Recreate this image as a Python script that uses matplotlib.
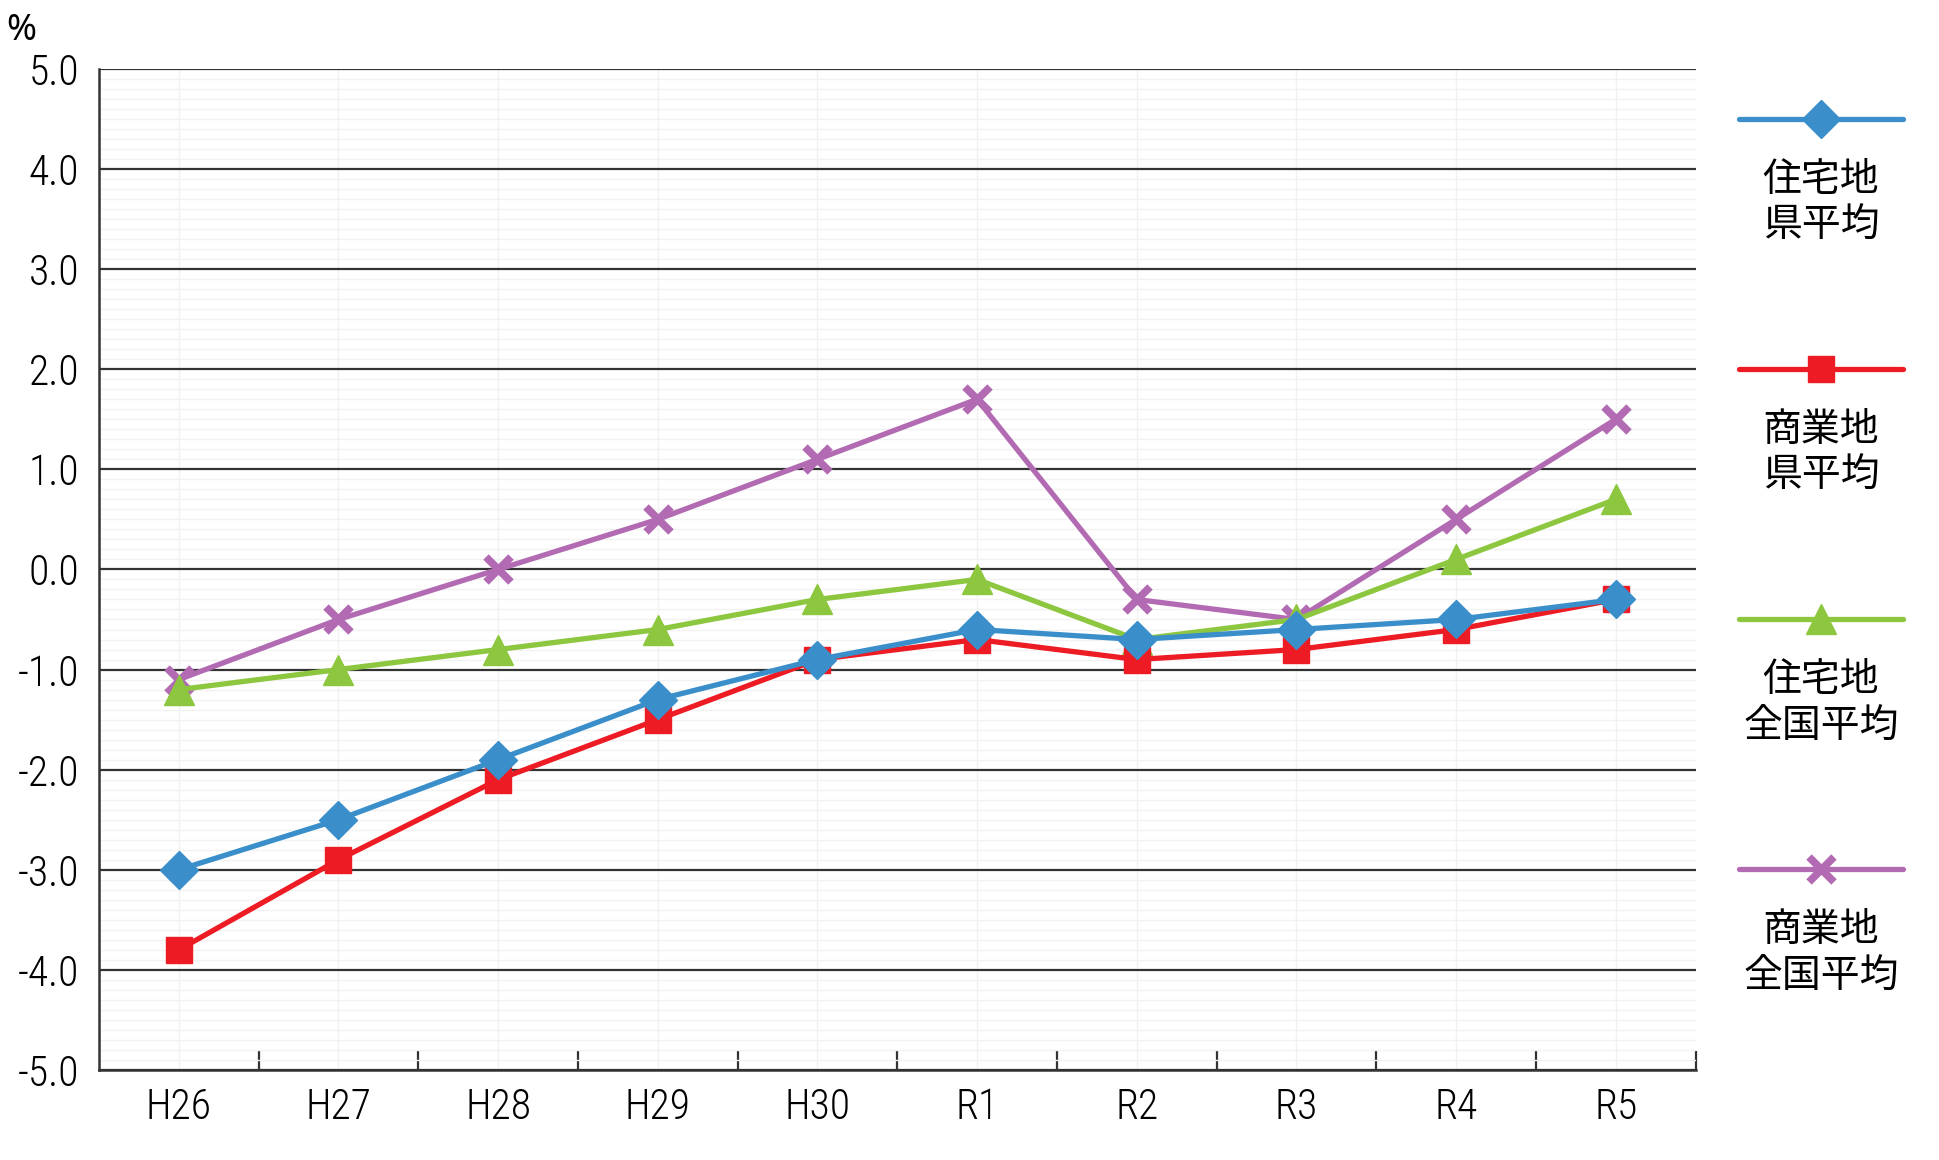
import matplotlib
matplotlib.use("Agg")
import matplotlib.pyplot as plt
from matplotlib import font_manager
from matplotlib.ticker import MultipleLocator, FixedLocator
import numpy as np

# データ
years = ['H26', 'H27', 'H28', 'H29', 'H30', 'R1', 'R2', 'R3', 'R4', 'R5']
res_pref = [-3.0, -2.5, -1.9, -1.3, -0.9, -0.6, -0.7, -0.6, -0.5, -0.3]
com_pref = [-3.8, -2.9, -2.1, -1.5, -0.9, -0.7, -0.9, -0.8, -0.6, -0.3]
res_nat = [-1.2, -1.0, -0.8, -0.6, -0.3, -0.1, -0.7, -0.5, 0.1, 0.7]
com_nat = [-1.1, -0.5, 0.0, 0.5, 1.1, 1.7, -0.3, -0.5, 0.5, 1.5]

labels = ['住宅地\n県平均', '商業地\n県平均', '住宅地\n全国平均', '商業地\n全国平均']
colors = ['#3a8fca', '#ed1c24', '#8dc63f', '#b26bb2']

# 細めのフォントを探す
installed = {f.name for f in font_manager.fontManager.ttflist}
narrow = None
for name in ['Liberation Sans Narrow', 'Roboto Condensed', 'Open Sans Condensed',
             'Noto Sans Condensed', 'DejaVu Sans Condensed']:
    if name in installed:
        narrow = name
        break
condensed_dejavu = any(f.name == 'DejaVu Sans' and f.stretch in ('condensed', 'semi-condensed')
                       for f in font_manager.fontManager.ttflist)
if narrow:
    num_kw = dict(family=[narrow, 'DejaVu Sans'], fontsize=30, fontweight='light')
elif condensed_dejavu:
    num_kw = dict(family='DejaVu Sans', fontstretch='condensed', fontsize=27)
else:
    num_kw = dict(family='DejaVu Sans', fontsize=26)
jp_font = ['Noto Sans CJK JP', 'DejaVu Sans']

fig = plt.figure(figsize=(19.4, 11.6), dpi=100)
ax = fig.add_axes([0.051, 0.0776, 0.823, 0.863])

x = np.arange(len(years))

styles = {
    0: dict(marker='D', ms=19),
    1: dict(marker='s', ms=19),
    2: dict(marker='^', ms=22),
    3: dict(marker='x', ms=18, mew=5.5),
}
series = [res_pref, com_pref, res_nat, com_nat]
lines = {}
# 描画順: 紫, 緑, 赤, 青
for i in [3, 2, 1, 0]:
    st = styles[i]
    ln, = ax.plot(x, series[i], color=colors[i], lw=3.8, marker=st['marker'],
                  ms=st['ms'], mew=st.get('mew', 1), mec=colors[i], mfc=colors[i],
                  solid_capstyle='round', solid_joinstyle='round', zorder=3 + (3 - i))
    lines[i] = ln

ax.set_xlim(-0.5, len(years) - 0.5)
ax.set_ylim(-5, 5)

# グリッド
ax.yaxis.set_major_locator(MultipleLocator(1))
ax.yaxis.set_minor_locator(MultipleLocator(0.1))
ax.grid(axis='y', which='major', color='#333333', lw=1.6, zorder=1)
ax.grid(axis='y', which='minor', color='#f2f2f2', lw=1.0, zorder=0)
for xi in x:
    ax.axvline(xi, color='#f2f2f2', lw=1.0, zorder=0)

yt = np.arange(-5, 5.1, 1)
ax.set_yticks(yt)
ax.set_yticklabels([f'{v:.1f}' for v in yt], **num_kw)
ax.tick_params(axis='y', which='both', length=0, pad=14)

ax.set_xticks(x)
ax.set_xticklabels(years, **num_kw)
ax.xaxis.set_minor_locator(FixedLocator(np.arange(0.5, len(years), 1)))
ax.tick_params(axis='x', which='major', length=0, pad=12)
ax.tick_params(axis='x', which='minor', direction='in', length=14, width=1.6, color='#333333')

for s in ['top', 'right']:
    ax.spines[s].set_visible(False)
for s in ['left', 'bottom']:
    ax.spines[s].set_color('#333333')
    ax.spines[s].set_linewidth(1.8)

fig.text(0.011, 0.973, '%', va='center', ha='center', family=['Noto Sans', 'DejaVu Sans'],
         fontsize=26)

# 凡例
leg_y = [1 - 120 / 1160, 1 - 370 / 1160, 1 - 620 / 1160, 1 - 870 / 1160]
leg_x = 1821 / 1940
for i in range(4):
    fig.legend(handles=[lines[i]], labels=[''], loc='center',
               bbox_to_anchor=(leg_x, leg_y[i]), bbox_transform=fig.transFigure,
               frameon=False, numpoints=1, handlelength=11.8, handletextpad=0,
               borderpad=0, borderaxespad=0, prop={'size': 10})
    fig.text(leg_x, leg_y[i] - 83 / 1160, labels[i], fontsize=28, family=jp_font,
             ha='center', va='center', linespacing=1.2)

fig.savefig('out.png', dpi=100)
